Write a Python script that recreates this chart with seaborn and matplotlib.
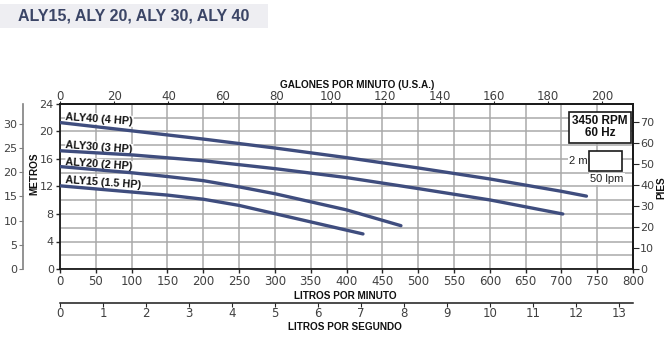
import numpy as np
import pandas as pd
import matplotlib
matplotlib.use("Agg")
import matplotlib.pyplot as plt
import seaborn as sns
from matplotlib.patches import Rectangle

# ---------------- data ----------------
title = "ALY15, ALY 20, ALY 30, ALY 40"
models = ["ALY40 (4 HP)", "ALY30 (3 HP)", "ALY20 (2 HP)", "ALY15 (1.5 HP)"]
aly40_lpm = [0, 100, 200, 300, 400, 500, 600, 700, 735]
aly40_m = [21.3, 20.1, 18.9, 17.6, 16.2, 14.7, 13.1, 11.3, 10.6]
aly30_lpm = [0, 100, 200, 300, 400, 500, 600, 702]
aly30_m = [17.2, 16.6, 15.75, 14.6, 13.3, 11.7, 10.05, 8.0]
aly20_lpm = [0, 100, 150, 200, 250, 300, 400, 476]
aly20_m = [14.9, 14.0, 13.45, 12.85, 11.95, 10.95, 8.6, 6.3]
aly15_lpm = [0, 100, 150, 200, 250, 300, 423]
aly15_m = [12.1, 11.2, 10.75, 10.15, 9.25, 8.05, 5.1]
label_y_m = [22.15, 18.05, 15.55, 12.95]

lpm_ticks = list(range(0, 801, 50))
m_ticks = list(range(0, 25, 4))
gpm_ticks = list(range(0, 201, 20))
lps_ticks = list(range(0, 14))
ft_ticks = list(range(0, 71, 10))
psi_ticks = list(range(0, 31, 5))

frames = []
for name, xs, ys in zip(models, [aly40_lpm, aly30_lpm, aly20_lpm, aly15_lpm],
                        [aly40_m, aly30_m, aly20_m, aly15_m]):
    frames.append(pd.DataFrame({"lpm": xs, "m": ys, "model": name}))
df = pd.concat(frames, ignore_index=True)

# ---------------- style ----------------
sns.set_style("white")
plt.rcParams["font.family"] = ["DejaVu Sans"]
NARROW = ["Liberation Sans", "DejaVu Sans"]
LINE = "#3f4d7e"
GRID = "#a9a9a9"
TICKC = "#404040"

fig = plt.figure(figsize=(6.7, 3.44), dpi=100)
W, H = 670, 344
L, R, T, B = 60, 633, 104, 269
ax = fig.add_axes([L / W, 1 - B / H, (R - L) / W, (B - T) / H])

# title band
fig.patches.append(Rectangle((0, 1 - 28 / H), 268 / W, 24 / H, transform=fig.transFigure,
                             facecolor="#eeeef2", edgecolor="none", zorder=0))
fig.text(18 / W, 1 - 16 / H, title, ha="left", va="center", fontsize=11.5,
         fontweight="bold", color="#3b4566", family=NARROW)

# curves
sns.lineplot(data=df, x="lpm", y="m", hue="model", palette=[LINE] * 4, sort=False,
             linewidth=2.4, legend=False, ax=ax, zorder=3)

ax.set_xlim(0, 800)
ax.set_ylim(0, 24)
ax.set_xticks(lpm_ticks)
ax.set_yticks(m_ticks)
ax.set_yticks(np.arange(0, 25, 2), minor=True)
ax.grid(True, which="major", axis="x", color=GRID, lw=1.1)
ax.grid(True, which="both", axis="y", color=GRID, lw=1.1)
ax.set_axisbelow(True)
ax.tick_params(axis="both", which="major", direction="out", length=3, width=1,
               labelsize=8.5, labelcolor=TICKC, pad=1)
ax.tick_params(axis="y", which="minor", length=0)
ax.tick_params(axis="y", labelsize=8, pad=1.5)
ax.set_xlabel("")
ax.set_ylabel("")
for s in ax.spines.values():
    s.set_color("#1a1a1a")
    s.set_linewidth(1.3)

# curve labels (white background hides the grid, curves drawn on top)
for name, ym in zip(models, label_y_m):
    ax.text(8, ym, name, ha="left", va="center", rotation=-4, rotation_mode="anchor",
            fontsize=7.8, fontweight="bold", color="#111111", family=NARROW, zorder=2.5,
            bbox=dict(boxstyle="square,pad=0.05", facecolor="white", edgecolor="none"))

# top axis: GPM
ax_g = ax.twiny()
ax_g.set_xlim(0, 800 / 3.78541)
ax_g.set_xticks(gpm_ticks)
ax_g.tick_params(axis="x", direction="out", length=2.5, labelsize=8.5, labelcolor=TICKC,
                 pad=-1.5)
for k in ["left", "right", "bottom"]:
    ax_g.spines[k].set_visible(False)
ax_g.spines["top"].set_color("#1a1a1a")
ax_g.spines["top"].set_linewidth(1.3)

# right axis: feet
ax_f = ax.twinx()
ax_f.set_ylim(0, 24 * 3.28084)
ax_f.set_yticks(ft_ticks)
ax_f.tick_params(axis="y", direction="out", length=4, labelsize=8, labelcolor=TICKC, pad=1)
for k in ["left", "top", "bottom"]:
    ax_f.spines[k].set_visible(False)
ax_f.spines["right"].set_color("#1a1a1a")
ax_f.spines["right"].set_linewidth(1.3)

# far-left axis: PSI
ax_p = ax.twinx()
ax_p.set_ylim(0, 24 * 1.42197)
ax_p.set_yticks(psi_ticks)
ax_p.yaxis.set_ticks_position("left")
ax_p.yaxis.set_label_position("left")
ax_p.spines["left"].set_visible(True)
ax_p.spines["left"].set_position(("outward", 37 * 0.72))
ax_p.spines["left"].set_color("#808080")
ax_p.spines["left"].set_linewidth(1.2)
for k in ["right", "top", "bottom"]:
    ax_p.spines[k].set_visible(False)
ax_p.tick_params(axis="y", direction="out", length=3, color="#808080", labelsize=8,
                 labelcolor=TICKC, pad=1)

# second bottom axis: litros por segundo
ax_s = ax.twiny()
ax_s.set_xlim(0, 800 / 60)
ax_s.set_xticks(lps_ticks)
ax_s.xaxis.set_ticks_position("bottom")
ax_s.xaxis.set_label_position("bottom")
ax_s.spines["bottom"].set_visible(True)
ax_s.spines["bottom"].set_position(("outward", 34 * 0.72))
ax_s.spines["bottom"].set_color("#1a1a1a")
ax_s.spines["bottom"].set_linewidth(1.1)
for k in ["left", "right", "top"]:
    ax_s.spines[k].set_visible(False)
ax_s.tick_params(axis="x", direction="out", length=3, labelsize=8.5, labelcolor=TICKC, pad=0)

# axis titles
bold = dict(fontsize=7.2, fontweight="bold", color="#111111", family=NARROW)
pw, ph = R - L, B - T
ax.text((34 - L) / pw, (B - 174) / ph, "METROS", rotation=90, ha="center", va="center",
        transform=ax.transAxes, **bold)
ax.text((661 - L) / pw, (B - 188) / ph, "PIES", rotation=90, ha="center", va="center",
        transform=ax.transAxes, **bold)
ax.text((357 - L) / pw, (B - 85) / ph, "GALONES POR MINUTO (U.S.A.)", ha="center",
        va="center", transform=ax.transAxes, **bold)
ax.text((345 - L) / pw, (B - 296) / ph, "LITROS POR MINUTO", ha="center", va="center",
        transform=ax.transAxes, **bold)
ax.text((345 - L) / pw, (B - 327) / ph, "LITROS POR SEGUNDO", ha="center", va="center",
        transform=ax.transAxes, **bold)

# RPM box
ax_f.add_patch(Rectangle(((569 - L) / pw, (B - 143) / ph), 62 / pw, 31 / ph,
                         transform=ax.transAxes, facecolor="white", edgecolor="#1a1a1a",
                         lw=1.2, zorder=5, clip_on=False))
ax_f.text((600 - L) / pw, (B - 127.5) / ph, "3450 RPM\n60 Hz", ha="center", va="center",
          transform=ax.transAxes, zorder=6, linespacing=1.0, fontsize=8.5,
          fontweight="bold", color="#111111", family=NARROW)
# scale box
ax_f.add_patch(Rectangle(((589 - L) / pw, (B - 171) / ph), 33 / pw, 20 / ph,
                         transform=ax.transAxes, facecolor="white", edgecolor="#1a1a1a",
                         lw=1.2, zorder=5, clip_on=False))
ax_f.text((578 - L) / pw, (B - 161) / ph, "2 m", ha="center", va="center",
          transform=ax.transAxes, zorder=6, fontsize=8, color="#222222", family=NARROW,
          bbox=dict(boxstyle="square,pad=0.1", facecolor="white", edgecolor="none"))
ax_f.text((607 - L) / pw, (B - 179) / ph, "50 lpm", ha="center", va="center",
          transform=ax.transAxes, zorder=6, fontsize=8, color="#222222", family=NARROW,
          bbox=dict(boxstyle="square,pad=0.1", facecolor="white", edgecolor="none"))

fig.savefig("out.png", dpi=100)
